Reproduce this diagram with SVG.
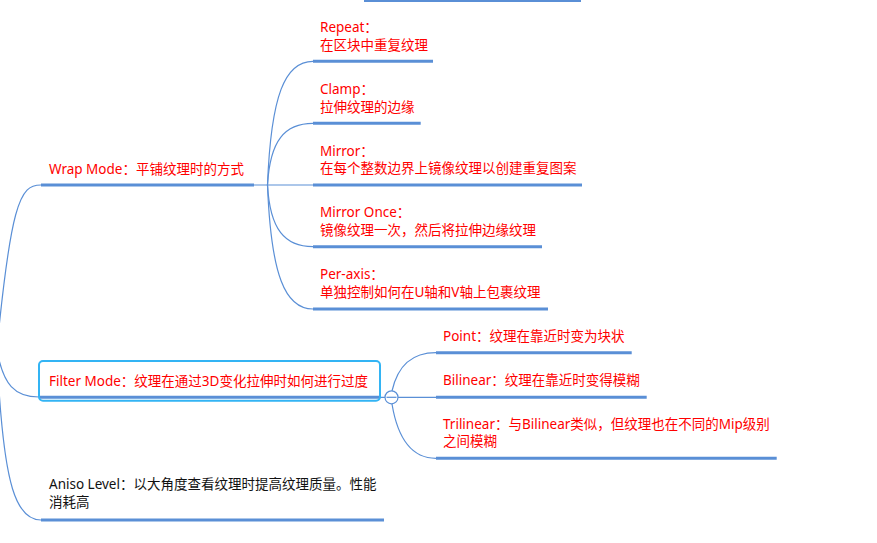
<svg xmlns="http://www.w3.org/2000/svg" width="877" height="543" viewBox="0 0 877 543">
<style>
text{font-family:"Noto Sans","Noto Sans CJK SC",sans-serif;font-size:13.5px;fill:#ff0000}
.k{fill:#111111}
.u{stroke:#5a8fd6;stroke-width:3;fill:none}
.c{stroke:#5a8fd6;stroke-width:1.2;fill:none}
</style>
<rect width="877" height="543" fill="#ffffff"/>
<g id="connectors">
<line class="u" x1="364" y1="0.5" x2="581" y2="0.5"/>
<path class="c" d="M -6 380 C 10 200, 20 185, 41 185"/>
<path class="c" d="M -3 350 C 3 385, 15 397, 39 397"/>
<path class="c" d="M -1 390 C 5 480, 15 520, 41 520"/>
<line class="c" x1="254" y1="185" x2="313" y2="185"/>
<path class="c" d="M 267.5 185 C 271 95, 285 61.3, 313 61.3"/>
<path class="c" d="M 267.5 185 C 270 140, 285 123.3, 313 123.3"/>
<path class="c" d="M 267.5 185 C 270 230, 285 246.7, 313 246.7"/>
<path class="c" d="M 267.5 185 C 271 275, 285 309, 313 309"/>
<line class="c" x1="380" y1="397.3" x2="436" y2="397.3"/>
<path class="c" d="M 392 391 C 398 365, 412 352.7, 436 352.7"/>
<path class="c" d="M 392 404 C 398 440, 412 458.3, 436 458.3"/>
</g>
<g id="wrap-mode">
<line class="u" x1="41" y1="185" x2="254" y2="185"/>
<text x="49" y="174">Wrap Mode：平铺纹理时的方式</text>
</g>
<g id="repeat">
<line class="u" x1="313" y1="61.3" x2="433" y2="61.3"/>
<text x="320" y="32">Repeat：</text>
<text x="320" y="49.5">在区块中重复纹理</text>
</g>
<g id="clamp">
<line class="u" x1="313" y1="123.3" x2="420.7" y2="123.3"/>
<text x="320" y="94">Clamp：</text>
<text x="320" y="111.5">拉伸纹理的边缘</text>
</g>
<g id="mirror">
<line class="u" x1="313" y1="185" x2="582" y2="185"/>
<text x="320" y="155.5">Mirror：</text>
<text x="320" y="173">在每个整数边界上镜像纹理以创建重复图案</text>
</g>
<g id="mirror-once">
<line class="u" x1="313" y1="246.7" x2="542" y2="246.7"/>
<text x="320" y="217">Mirror Once：</text>
<text x="320" y="234.5">镜像纹理一次，然后将拉伸边缘纹理</text>
</g>
<g id="per-axis">
<line class="u" x1="313" y1="309" x2="548" y2="309"/>
<text x="320" y="279">Per-axis：</text>
<text x="320" y="296.5">单独控制如何在U轴和V轴上包裹纹理</text>
</g>
<g id="filter-mode">
<line class="u" x1="40" y1="397.3" x2="380" y2="397.3"/>
<rect x="39" y="361" width="341" height="39.7" rx="4" fill="none" stroke="#33b4f4" stroke-width="2"/>
<text x="49" y="385.5">Filter Mode：纹理在通过3D变化拉伸时如何进行过度</text>
<circle cx="391.5" cy="397.3" r="6.5" fill="#ffffff" stroke="#5a8fd6" stroke-width="1.2"/>
<line x1="386.5" y1="397.3" x2="396.5" y2="397.3" stroke="#5a8fd6" stroke-width="1.2"/>
</g>
<g id="point">
<line class="u" x1="436" y1="352.7" x2="631.7" y2="352.7"/>
<text x="443" y="340.5">Point：纹理在靠近时变为块状</text>
</g>
<g id="bilinear">
<line class="u" x1="436" y1="397.3" x2="646.7" y2="397.3"/>
<text x="443" y="385">Bilinear：纹理在靠近时变得模糊</text>
</g>
<g id="trilinear">
<line class="u" x1="436" y1="458.3" x2="776.7" y2="458.3"/>
<text x="443" y="428.5">Trilinear：与Bilinear类似，但纹理也在不同的Mip级别</text>
<text x="443" y="446">之间模糊</text>
</g>
<g id="aniso-level">
<line class="u" x1="41" y1="520" x2="384" y2="520"/>
<text class="k" x="49" y="489">Aniso Level：以大角度查看纹理时提高纹理质量。性能</text>
<text class="k" x="49" y="506.5">消耗高</text>
</g>
</svg>
